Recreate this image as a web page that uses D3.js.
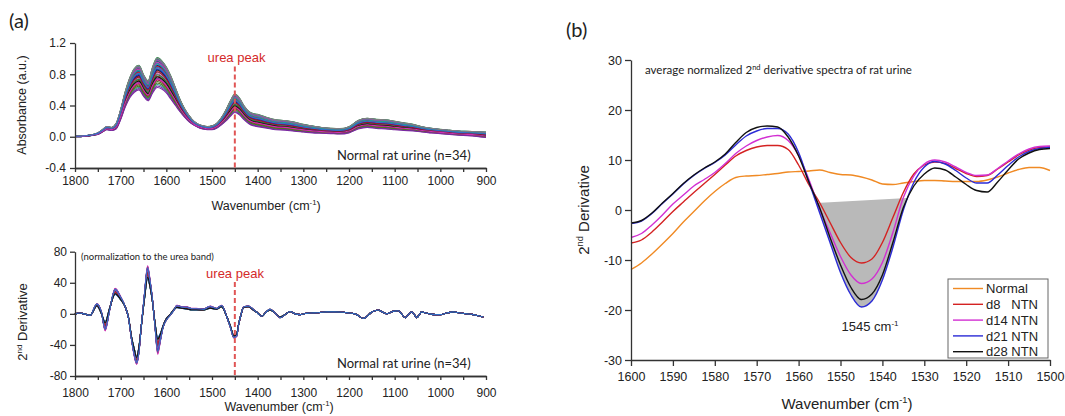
<!DOCTYPE html>
<html>
<head>
<meta charset="utf-8">
<script src="https://d3js.org/d3.v7.min.js"></script>
<style>
body { margin: 0; background: #fff; }
svg text { font-family: "Liberation Sans", Arial, sans-serif; fill: #222; }
svg .gill { font-family: Lato, "Open Sans", sans-serif; }
.axis path, .axis line { stroke: #333; stroke-width: 1.3px; }
.axis text { font-family: "Liberation Sans", Arial, sans-serif; fill: #222; }
</style>
</head>
<body>
<div id="chart"></div>
<script>
// ---------- data: panel (a) absorbance, 34 spectra ----------
var waveA = [1800,1790,1780,1770,1760,1750,1740,1730,1720,1710,
  1700,1690,1680,1670,1660,1650,1640,1630,1620,1610,
  1600,1590,1580,1570,1560,1550,1540,1530,1520,1510,
  1500,1490,1480,1470,1460,1450,1440,1430,1420,1410,
  1400,1380,1360,1340,1320,1300,1280,1260,1240,1220,
  1200,1180,1160,1140,1120,1100,1080,1060,1040,1020,
  1000,980,960,940,920,900];
// upper and lower edge of the bundle of spectra
var absHi = [0.01,0.01,0.015,0.02,0.03,0.05,0.09,0.13,0.12,0.17,
  0.35,0.58,0.76,0.88,0.92,0.80,0.72,0.90,1.02,0.98,
  0.90,0.78,0.63,0.48,0.36,0.27,0.20,0.16,0.14,0.13,
  0.14,0.17,0.24,0.34,0.46,0.55,0.50,0.40,0.33,0.30,
  0.29,0.25,0.22,0.21,0.19,0.16,0.14,0.12,0.11,0.105,
  0.13,0.21,0.24,0.225,0.22,0.20,0.18,0.16,0.13,0.11,
  0.095,0.085,0.075,0.07,0.065,0.06];
var absLo = [0.0,0.0,0.005,0.01,0.02,0.03,0.06,0.09,0.08,0.10,
  0.22,0.38,0.50,0.57,0.60,0.52,0.46,0.56,0.63,0.61,
  0.56,0.48,0.40,0.32,0.25,0.19,0.15,0.12,0.10,0.09,
  0.09,0.11,0.15,0.20,0.26,0.31,0.28,0.22,0.17,0.14,
  0.13,0.11,0.09,0.085,0.07,0.06,0.05,0.045,0.04,0.035,
  0.05,0.10,0.12,0.105,0.10,0.09,0.08,0.075,0.06,0.05,
  0.04,0.03,0.02,0.015,0.005,-0.01];
// position of each spectrum inside the bundle (0 = lower edge, 1 = upper edge)
var posA = [0.98,0.55,0.30,0.86,0.72,0.10,0.93,0.62,0.45,0.80,
  0.20,0.68,0.88,0.38,0.05,0.75,0.58,0.95,0.25,0.50,
  0.83,0.65,0.15,0.90,0.42,0.70,0.00,0.60,0.35,0.78,
  0.52,0.97,0.28,0.66];

// ---------- data: panel (a) 2nd derivative, 34 spectra ----------
var waveD = [1800,1790,1780,1767,1752,1742,1734,1724,1712,1700,
  1690,1683,1676,1670,1665,1660,1655,1648,1641,1636,
  1631,1625,1619,1613,1607,1600,1592,1583,1577,1565,
  1555,1545,1534,1519,1504,1490,1479,1468,1460,1452,
  1446,1442,1436,1431,1420,1410,1402,1391,1382,1373,
  1362,1351,1340,1329,1318,1307,1296,1285,1267,1249,
  1230,1212,1199,1187,1178,1169,1160,1150,1143,1136,
  1126,1117,1107,1100,1092,1085,1077,1070,1063,1057,
  1052,1046,1041,1032,1023,1012,1001,986,972,957,
  942,928,913,906];
var derHi = [0,1,0,-2,13,2,-22,5,33,22,
  9,-5,-34,-55,-65,-50,-17,25,62,45,
  22,-15,-52,-35,-17,-8,-2,5,11,9,
  9,7,7,6,10,7,11,-3,-17,-31,
  -29,-15,0,9,10,6,2,-3,2,6,
  1,-5,-1,3,0,-1,0.5,1,1.5,2.5,
  2.5,2,1,0,-3,-6,-3,2.5,4,5,
  2,0,2.5,3.5,4,0,-5,-1,2.5,-1,
  -5,-1,2.5,1,0,-1,-1,1,2.5,1,
  0,-1,-3,-4];
var derLo = [0,1,0,-2,10,0,-10,8,25,18,
  9,-4,-30,-45,-55,-42,-17,18,45,35,
  18,-10,-30,-25,-15,-6,-1,6,8,7,
  6,5,5,5,7,6,9,-3,-15,-28,
  -26,-14,0,8,9,5,2,-3,2,5,
  1,-4,-1,3,0,-1,0.5,1,1.5,2.5,
  2.5,2,1,0,-3,-6,-3,2.5,4,5,
  2,0,2.5,3.5,4,0,-5,-1,2.5,-1,
  -5,-1,2.5,1,0,-1,-1,1,2.5,1,
  0,-1,-3,-4];
var posD = [0.40,0.85,0.10,0.62,0.95,0.30,0.72,0.50,0.05,0.66,
  0.22,0.80,0.45,0.58,0.15,0.90,0.35,0.70,0.55,0.25,
  0.78,0.00,0.60,0.42,0.88,0.18,0.52,0.75,1.00,0.32,
  0.48,0.64,0.12,0.82];

var traceColors = ["#1b8a3a","#d0202a","#7a2aa0","#2233b0","#111111","#20a090",
  "#9a1030","#808080","#d030b0","#3070c8","#507020","#9050b0"];

// ---------- data: panel (b) averaged 2nd derivative ----------
var waveB = [1600,1597.5,1595,1592.5,1590,1587.5,1585,1582.5,1580,1577.5,
  1575,1572.5,1570,1567.5,1565,1562.5,1560,1557.5,1555,1552.5,
  1550,1547.5,1545,1542.5,1540,1537.5,1535,1532.5,1530,1527.5,
  1525,1522.5,1520,1517.5,1515,1512.5,1510,1507.5,1505,1502.5,1500];
var normal = [-11.9,-10.6,-8.8,-6.8,-4.7,-2.4,-0.3,1.8,3.7,5.3,
  6.5,6.8,6.9,7.1,7.3,7.6,7.7,7.8,8.0,7.5,
  7.1,7.0,6.6,6.0,5.2,5.1,5.4,5.7,5.9,5.9,
  5.8,5.7,5.7,5.7,6.0,6.6,7.4,8.1,8.5,8.5,7.9];
var d8 = [-6.6,-6.0,-4.4,-2.4,-0.3,1.6,3.5,5.3,7.1,9.0,
  10.8,11.9,12.6,12.9,12.9,12.1,9.0,5.0,1.5,-2.5,
  -6.5,-9.5,-10.6,-9.8,-6.5,-1.5,3.5,7.2,9.0,9.6,
  9.3,8.3,7.3,6.7,6.9,8.2,9.6,11.0,12.0,12.5,12.6];
var d14 = [-5.5,-4.7,-3.0,-1.0,1.2,3.0,4.8,6.1,7.5,9.3,
  11.3,12.8,13.9,14.6,14.9,13.9,10.9,6.0,0.3,-4.5,
  -9.3,-13.0,-14.7,-13.8,-10.5,-4.5,2.5,6.8,9.2,10.0,
  9.6,8.6,7.5,6.9,7.0,8.3,9.8,11.2,12.2,12.7,12.8];
var d21 = [-2.7,-2.2,-0.7,1.3,3.2,5.2,6.9,8.3,9.5,11.0,
  13.0,14.8,15.8,16.3,16.3,15.2,11.5,5.5,-0.5,-6.5,
  -12.5,-17.0,-19.4,-18.2,-14.0,-7.5,0.0,5.5,8.6,9.7,
  9.2,7.9,6.4,5.4,5.4,7.0,8.9,10.6,11.7,12.3,12.5];
var d28 = [-2.6,-2.1,-0.6,1.4,3.3,5.3,7.0,8.4,9.6,11.2,
  13.5,15.5,16.5,16.8,16.6,14.6,10.8,5.5,0.5,-5.5,
  -11.0,-15.5,-17.9,-16.8,-13.0,-6.5,0.5,4.8,7.2,8.4,
  8.0,6.6,5.1,3.9,3.6,5.6,8.0,10.2,11.4,12.1,12.3];
var seriesB = [normal, d8, d14, d21, d28];
var namesB = ["Normal", "d8   NTN", "d14 NTN", "d21 NTN", "d28 NTN"];
var colorsB = ["#f08a24", "#d42222", "#d22fd2", "#2b2bd6", "#111111"];
// straight baseline under the 1545 band (wavenumber, value)
var bandBase = [[1555.8, 1.4], [1534.0, 2.4]];

// ---------- svg ----------
var svg = d3.select("#chart")
  .append("svg")
  .attr("width", 1065)
  .attr("height", 416);

// plain ascii tick labels (no thousands comma, hyphen minus)
var fmtInt = d => String(d);
var fmtOne = d => d.toFixed(1);

function addCmLabel(g, x, y, size, anchor) {
  var t = g.append("text")
    .attr("x", x).attr("y", y)
    .attr("text-anchor", anchor)
    .style("font-size", size + "px");
  t.append("tspan").text("Wavenumber (cm");
  t.append("tspan").attr("dy", -size * 0.38).style("font-size", (size * 0.62) + "px").text("-1");
  t.append("tspan").attr("dy", size * 0.38).text(")");
  return t;
}

function addDerivLabel(x, y, size) {
  var t = svg.append("text")
    .attr("transform", `translate(${x}, ${y})rotate(-90)`)
    .attr("text-anchor", "middle")
    .style("font-size", size + "px");
  t.append("tspan").text("2");
  t.append("tspan").attr("dy", -size * 0.38).style("font-size", (size * 0.62) + "px").text("nd");
  t.append("tspan").attr("dy", size * 0.38).text(" Derivative");
}

// shared x scale for the two left plots
var xA = d3.scaleLinear().domain([1800, 900]).range([75, 486]);
var majorA = d3.range(1800, 899, -100);
var minorA = d3.range(1750, 900, -100);

function drawXAxisA(yPos, pad) {
  svg.append("g")
    .attr("class", "axis")
    .attr("transform", `translate(0, ${yPos})`)
    .call(d3.axisBottom(xA).tickValues(minorA).tickSize(4).tickSizeOuter(0).tickFormat(""));
  svg.append("g")
    .attr("class", "axis")
    .attr("transform", `translate(0, ${yPos})`)
    .call(d3.axisBottom(xA).tickValues(majorA).tickSize(4).tickSizeOuter(0).tickPadding(pad).tickFormat(fmtInt))
    .selectAll("text").style("font-size", "12px");
}

// ---------- panel (a) top ----------
var yA1 = d3.scaleLinear().domain([-0.4, 1.2]).range([168, 43]);

var lineA1 = d3.line()
  .x(d => xA(d[0]))
  .y(d => yA1(d[1]))
  .curve(d3.curveMonotoneX);

posA.forEach(function(t, i) {
  var pts = waveA.map((w, j) => [w, absLo[j] + t * (absHi[j] - absLo[j])]);
  svg.append("path")
    .attr("d", lineA1(pts))
    .attr("fill", "none")
    .attr("stroke", traceColors[i % traceColors.length])
    .attr("stroke-width", 1.1);
});

drawXAxisA(168, 4);
svg.append("g")
  .attr("class", "axis")
  .attr("transform", "translate(75, 0)")
  .call(d3.axisLeft(yA1).tickValues([-0.4, 0, 0.4, 0.8, 1.2]).tickSize(5).tickSizeOuter(0)
    .tickPadding(4).tickFormat(fmtOne))
  .selectAll("text").style("font-size", "12px");

svg.append("line")
  .attr("x1", xA(1450)).attr("x2", xA(1450))
  .attr("y1", yA1(0.9)).attr("y2", yA1(-0.4))
  .attr("stroke", "#e05555").attr("stroke-width", 2)
  .attr("stroke-dasharray", "5,3");
svg.append("text")
  .attr("x", 236.5).attr("y", 62)
  .attr("text-anchor", "middle")
  .style("font-size", "13px").style("fill", "#d42a2a")
  .text("urea peak");

svg.append("text")
  .attr("class", "gill")
  .attr("x", 337).attr("y", 160)
  .style("font-size", "13px")
  .text("Normal rat urine (n=34)");

addCmLabel(svg, 266, 210, 12.5, "middle");

svg.append("text")
  .attr("transform", "translate(26, 105)rotate(-90)")
  .attr("text-anchor", "middle")
  .style("font-size", "12.5px")
  .text("Absorbance (a.u.)");

svg.append("text")
  .attr("class", "gill")
  .attr("x", 9).attr("y", 28)
  .style("font-size", "20px")
  .text("(a)");

// ---------- panel (a) bottom ----------
var yA2 = d3.scaleLinear().domain([-80, 80]).range([376, 251.7]);

var lineA2 = d3.line()
  .x(d => xA(d[0]))
  .y(d => yA2(d[1]))
  .curve(d3.curveMonotoneX);

posD.forEach(function(t, i) {
  var pts = waveD.map((w, j) => [w, derLo[j] + t * (derHi[j] - derLo[j])]);
  svg.append("path")
    .attr("d", lineA2(pts))
    .attr("fill", "none")
    .attr("stroke", traceColors[(i * 5) % traceColors.length])
    .attr("stroke-width", 1.1);
});

drawXAxisA(376, 8);
svg.append("g")
  .attr("class", "axis")
  .attr("transform", "translate(75, 0)")
  .call(d3.axisLeft(yA2).tickValues([-80, -40, 0, 40, 80]).tickSize(5).tickSizeOuter(0)
    .tickPadding(3).tickFormat(fmtInt))
  .selectAll("text").style("font-size", "12px");

svg.append("line")
  .attr("x1", xA(1450)).attr("x2", xA(1450))
  .attr("y1", yA2(41)).attr("y2", yA2(-80))
  .attr("stroke", "#e05555").attr("stroke-width", 2)
  .attr("stroke-dasharray", "5,3");
svg.append("text")
  .attr("x", 235).attr("y", 277.5)
  .attr("text-anchor", "middle")
  .style("font-size", "13px").style("fill", "#d42a2a")
  .text("urea peak");

svg.append("text")
  .attr("class", "gill")
  .attr("x", 81).attr("y", 259.5)
  .style("font-size", "9.5px")
  .text("(normalization to the urea band)");

svg.append("text")
  .attr("class", "gill")
  .attr("x", 337).attr("y", 367.5)
  .style("font-size", "13px")
  .text("Normal rat urine (n=34)");

addCmLabel(svg, 279, 411, 12.5, "middle");
addDerivLabel(27, 322, 13);

// ---------- panel (b) ----------
var xB = d3.scaleLinear().domain([1600, 1500]).range([631, 1050]);
var yB = d3.scaleLinear().domain([-30, 30]).range([360, 60]);

var lineB = d3.line()
  .x((d, j) => xB(waveB[j]))
  .y(d => yB(d))
  .curve(d3.curveMonotoneX);

// shaded band area between baseline and the lowest (d21) curve
var clipPts = [
  [xB(bandBase[0][0]), yB(bandBase[0][1])],
  [xB(bandBase[1][0]), yB(bandBase[1][1])],
  [xB(bandBase[1][0]), yB(-30)],
  [xB(bandBase[0][0]), yB(-30)]
];
svg.append("clipPath")
  .attr("id", "bandClip")
  .append("path")
  .attr("d", "M" + clipPts.join("L") + "Z");

var bandArea = d3.area()
  .x((d, j) => xB(waveB[j]))
  .y0(yB(30))
  .y1(d => yB(d))
  .curve(d3.curveMonotoneX);

svg.append("path")
  .attr("d", bandArea(d21))
  .attr("clip-path", "url(#bandClip)")
  .attr("fill", "#b9b9b9");

seriesB.forEach(function(s, i) {
  svg.append("path")
    .attr("d", lineB(s))
    .attr("fill", "none")
    .attr("stroke", colorsB[i])
    .attr("stroke-width", 1.4);
});

svg.append("g")
  .attr("class", "axis")
  .attr("transform", "translate(0, 360)")
  .call(d3.axisBottom(xB).tickValues(d3.range(1600, 1499, -10)).tickSize(6).tickSizeOuter(0)
    .tickPadding(6).tickFormat(fmtInt))
  .selectAll("text").style("font-size", "12.5px");
svg.append("g")
  .attr("class", "axis")
  .attr("transform", "translate(631, 0)")
  .call(d3.axisLeft(yB).tickValues(d3.range(-30, 31, 10)).tickSize(6).tickSizeOuter(0)
    .tickPadding(3).tickFormat(fmtInt))
  .selectAll("text").style("font-size", "12.5px");

var title = svg.append("text")
  .attr("class", "gill")
  .attr("x", 645).attr("y", 74)
  .style("font-size", "11.5px");
title.append("tspan").text("average normalized 2");
title.append("tspan").attr("dy", -4).style("font-size", "7.5px").text("nd");
title.append("tspan").attr("dy", 4).text(" derivative spectra of rat urine");

svg.append("text")
  .attr("x", 870).attr("y", 331)
  .attr("text-anchor", "middle")
  .style("font-size", "13px")
  .call(function(t) {
    t.append("tspan").text("1545 cm");
    t.append("tspan").attr("dy", -5).style("font-size", "8px").text("-1");
  });

addCmLabel(svg, 847, 409, 15, "middle");
addDerivLabel(589, 210, 15);

svg.append("text")
  .attr("class", "gill")
  .attr("x", 566).attr("y", 37)
  .style("font-size", "20px")
  .text("(b)");

// legend
var legend = svg.append("g").attr("transform", "translate(948, 279)");
legend.append("rect")
  .attr("width", 100).attr("height", 79)
  .attr("fill", "#fff")
  .attr("stroke", "#666").attr("stroke-width", 1);
namesB.forEach(function(n, i) {
  var yy = 9.5 + i * 15.8;
  legend.append("line")
    .attr("x1", 5).attr("x2", 35)
    .attr("y1", yy).attr("y2", yy)
    .attr("stroke", colorsB[i]).attr("stroke-width", 1.4);
  legend.append("text")
    .attr("x", 38).attr("y", yy + 4.6)
    .style("font-size", "13px")
    .style("white-space", "pre")
    .text(n);
});
</script>
</body>
</html>
